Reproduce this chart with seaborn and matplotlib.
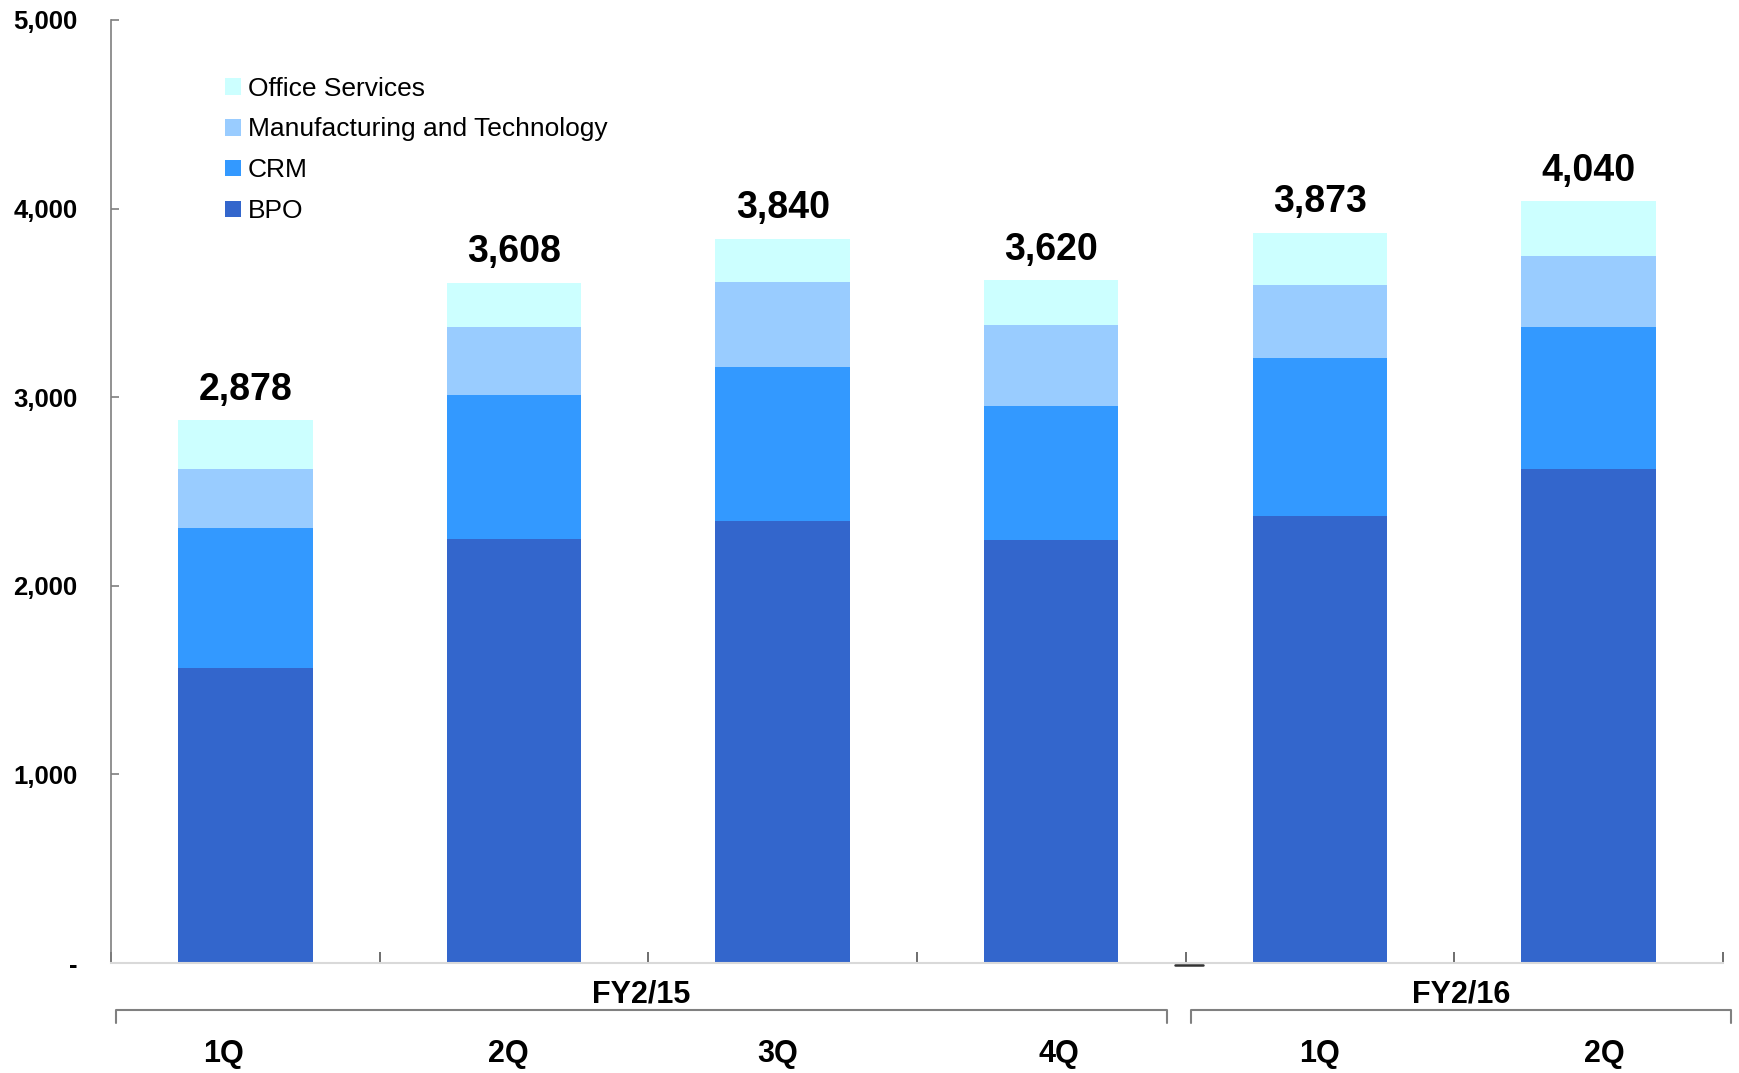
import matplotlib
matplotlib.use("Agg")
import matplotlib.pyplot as plt
from matplotlib.patches import Patch
import numpy as np
import pandas as pd
import seaborn as sns

# Quarterly sales by segment
periods = ["FY2/15 1Q", "FY2/15 2Q", "FY2/15 3Q", "FY2/15 4Q", "FY2/16 1Q", "FY2/16 2Q"]
quarter_labels = ["1Q", "2Q", "3Q", "4Q", "1Q", "2Q"]
bpo = [1565, 2247, 2341, 2241, 2371, 2618]
crm = [741, 765, 818, 712, 835, 753]
manufacturing = [312, 359, 453, 429, 388, 376]
office = [260, 237, 228, 238, 279, 293]
totals = [2878, 3608, 3840, 3620, 3873, 4040]

segments = ["BPO", "CRM", "Manufacturing and Technology", "Office Services"]
colors = ["#3366CC", "#3399FF", "#99CCFF", "#CCFFFF"]

fiscal_years = ["FY2/15", "FY2/16"]
fy_spans = [(-0.48, 3.43), (3.52, 5.53)]
quarter_x = [-0.08, 0.98, 1.98, 3.03, 4.0, 5.06]

sns.set_theme(style="white")
plt.rcParams["font.family"] = ["Liberation Sans", "DejaVu Sans"]
plt.rcParams["text.color"] = "black"
plt.rcParams["xtick.labelcolor"] = "black"
plt.rcParams["ytick.labelcolor"] = "black"

df = pd.DataFrame({"period": periods, "BPO": bpo, "CRM": crm,
                   "Manufacturing and Technology": manufacturing,
                   "Office Services": office})
cum = df[segments].cumsum(axis=1)

fig = plt.figure(figsize=(17.4, 10.73), dpi=100)
ax = fig.add_axes([0.0638, 0.1025, 0.9264, 0.8789])

# Stacked bars: draw cumulative heights from the top segment down
for seg, col in reversed(list(zip(segments, colors))):
    sns.barplot(data=cum.assign(period=df["period"]), x="period", y=seg,
                order=periods, color=col, saturation=1, width=0.5,
                errorbar=None, linewidth=0, ax=ax)

# Total labels above each bar
for i, t in enumerate(totals):
    ax.annotate(f"{t:,}", (i, t), xytext=(0, 9), textcoords="offset points",
                ha="center", va="bottom", fontsize=27, fontweight="bold",
                color="black")

ax.set_xlim(-0.5, 5.5)
ax.set_ylim(0, 5000)
yt = np.arange(0, 5001, 1000)
ax.set_yticks(yt)
ax.set_yticklabels(["-" if v == 0 else f"{v:,}" for v in yt],
                   fontsize=18.5, fontweight="bold")
ax.set_xticks(np.arange(-0.5, 6, 1))
ax.set_xticklabels([])
ax.set_xlabel("")
ax.set_ylabel("")

ax.tick_params(axis="y", direction="in", length=6, width=1.2, color="#7f7f7f",
               labelcolor="black", pad=24, left=True)
ax.tick_params(axis="x", direction="in", length=8, width=1.2, color="#555555",
               bottom=True)
for s in ["top", "right"]:
    ax.spines[s].set_visible(False)
ax.spines["left"].set_color("#7f7f7f")
ax.spines["left"].set_linewidth(1.2)
ax.spines["bottom"].set_color("#d9d9d9")
ax.spines["bottom"].set_linewidth(1.5)

trans = ax.get_xaxis_transform()
# short dark mark at the fiscal-year boundary on the baseline
ax.plot([3.46, 3.566], [-0.002, -0.002], transform=trans, color="#333333",
        lw=1.8, clip_on=False, zorder=10)

# Fiscal-year brackets and labels
for fy, (x0, x1) in zip(fiscal_years, fy_spans):
    ax.plot([x0, x0, x1, x1], [-0.064, -0.050, -0.050, -0.064], transform=trans,
            color="#808080", lw=1.5, clip_on=False)
    ax.text((x0 + x1) / 2, -0.033, fy, transform=trans, ha="center", va="center",
            fontsize=22, fontweight="bold", color="black")

for x, q in zip(quarter_x, quarter_labels):
    ax.text(x, -0.0965, q, transform=trans, ha="center", va="center",
            fontsize=22, fontweight="bold", color="black")

handles = [Patch(facecolor=c, edgecolor="none") for c in reversed(colors)]
leg = ax.legend(handles, list(reversed(segments)), loc="upper left",
                bbox_to_anchor=(0.071, 0.940), frameon=False, fontsize=19,
                handlelength=0.6, handleheight=0.6, handletextpad=0.25,
                labelspacing=0.64, borderpad=0, borderaxespad=0)
for txt in leg.get_texts():
    txt.set_color("black")

fig.savefig("out.png", dpi=100)
